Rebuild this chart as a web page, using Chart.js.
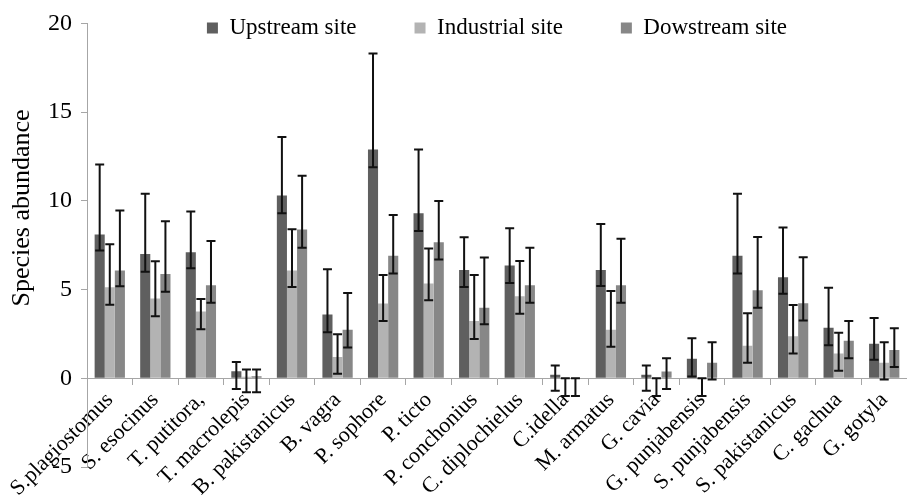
<!DOCTYPE html>
<html>
<head>
<meta charset="utf-8">
<script src="https://cdn.jsdelivr.net/npm/chart.js@4.4.0/dist/chart.umd.min.js"></script>
<style>
  html, body { margin: 0; padding: 0; background: #fff; }
  #wrap { width: 907px; height: 495px; }
</style>
</head>
<body>
<div id="wrap"><canvas id="graphAbundance"></canvas></div>
<script>
var categories = ['S.plagiostomus', 'S. esocinus', 'T. putitora,', 'T. macrolepis', 'B. pakistanicus',
    'B. vagra', 'P. sophore', 'P. ticto', 'P. conchonius', 'C. diplochielus', 'C.idella',
    'M. armatus', 'G. cavia', 'G. punjabensis', 'S. punjabensis', 'S. pakistanicus', 'C. gachua', 'G. gotyla'];

var upstream = [8.1, 7.0, 7.1, 0.4, 10.3, 3.6, 12.9, 9.3, 6.1, 6.35, 0.2, 6.1, 0.2, 1.1, 6.9, 5.7, 2.85, 1.95];
var upstreamHigh = [12.05, 10.4, 9.4, 0.92, 13.6, 6.15, 18.3, 12.9, 7.95, 8.45, 0.72, 8.7, 0.72, 2.25, 10.4, 8.5, 5.1, 3.4];
var upstreamLow = [7.2, 6.0, 6.2, -0.6, 9.3, 2.6, 11.9, 8.3, 5.15, 5.37, -0.7, 5.2, -0.7, 0.1, 5.9, 4.77, 1.86, 1.04];

var industrial = [5.13, 4.5, 3.76, 0.08, 6.08, 1.2, 4.21, 5.34, 3.23, 4.62, 0, 2.74, 0, 0, 1.84, 2.37, 1.39, 0.87];
var industrialHigh = [7.55, 6.6, 4.47, 0.49, 8.4, 2.48, 5.82, 7.32, 5.82, 6.61, 0, 4.92, 0, 0, 3.66, 4.13, 2.56, 2.03];
var industrialLow = [4.15, 3.5, 2.76, -0.79, 5.15, 0.26, 3.23, 4.4, 2.22, 3.63, -1.0, 1.77, -1.0, -1.0, 0.87, 1.39, 0.42, -0.07];

var downstream = [6.08, 5.88, 5.24, 0.11, 8.38, 2.74, 6.91, 7.66, 3.98, 5.24, 0, 5.24, 0.38, 0.87, 4.96, 4.23, 2.12, 1.6];
var downstreamHigh = [9.46, 8.85, 7.74, 0.49, 11.42, 4.81, 9.2, 9.99, 6.8, 7.35, 0, 7.87, 1.13, 2.03, 7.96, 6.82, 3.23, 2.82];
var downstreamLow = [5.18, 4.87, 4.25, -0.79, 7.36, 1.73, 5.9, 6.69, 3.04, 4.25, -1.0, 4.25, -0.6, -0.07, 3.98, 3.25, 1.13, 0.64];

var yTicks = [-5, 0, 5, 10, 15, 20];

var serif = '"Liberation Serif", "Times New Roman", serif';
var axisGrey = '#a6a6a6';

// error bars, drawn from the high/low arrays through the y scale
var errorBars = {
    id: 'errorBars',
    afterDatasetsDraw: function (chart) {
        var ctx = chart.ctx;
        var y = chart.scales.y;
        ctx.save();
        ctx.strokeStyle = '#111';
        ctx.lineWidth = 2;
        chart.data.datasets.forEach(function (ds, i) {
            chart.getDatasetMeta(i).data.forEach(function (bar, j) {
                var top = y.getPixelForValue(ds.errHigh[j]);
                var bottom = y.getPixelForValue(ds.errLow[j]);
                ctx.beginPath();
                ctx.moveTo(bar.x, top);
                ctx.lineTo(bar.x, bottom);
                ctx.moveTo(bar.x - 4.5, top);
                ctx.lineTo(bar.x + 4.5, top);
                ctx.moveTo(bar.x - 4.5, bottom);
                ctx.lineTo(bar.x + 4.5, bottom);
                ctx.stroke();
            });
        });
        ctx.restore();
    }
};

// legend box is squeezed above the plot; let its text spill below without clipping
var legendUnclip = {
    id: 'legendUnclip',
    afterLayout: function (chart) {
        if (chart.legend) {
            chart.legend.bottom += 30;
        }
    }
};

var yTitle = {
    id: 'yTitle',
    afterDraw: function (chart) {
        var ctx = chart.ctx;
        ctx.save();
        ctx.translate(22, 208);
        ctx.rotate(-Math.PI / 2);
        ctx.font = '26px ' + serif;
        ctx.fillStyle = '#000';
        ctx.textAlign = 'center';
        ctx.textBaseline = 'middle';
        ctx.fillText('Species abundance', 0, 0);
        ctx.restore();
    }
};

new Chart(document.getElementById('graphAbundance').getContext('2d'), {
    type: 'bar',
    data: {
        labels: categories,
        datasets: [
            { label: 'Upstream site', data: upstream, errHigh: upstreamHigh, errLow: upstreamLow, backgroundColor: '#5f5f5f' },
            { label: 'Industrial site', data: industrial, errHigh: industrialHigh, errLow: industrialLow, backgroundColor: '#b3b3b3' },
            { label: 'Dowstream site', data: downstream, errHigh: downstreamHigh, errLow: downstreamLow, backgroundColor: '#878787' }
        ]
    },
    options: {
        responsive: true,
        maintainAspectRatio: false,
        animation: false,
        categoryPercentage: 0.665,
        barPercentage: 1,
        layout: {
            padding: { left: 0, right: -3, top: -42, bottom: 28 }
        },
        plugins: {
            tooltip: { enabled: false },
            legend: {
                position: 'top',
                fullSize: false,
                maxHeight: 65,
                labels: {
                    boxWidth: 11,
                    boxHeight: 11,
                    padding: 58,
                    color: '#000',
                    font: { family: serif, size: 23 }
                }
            }
        },
        scales: {
            x: {
                position: { y: 0 },
                offset: true,
                grid: { offset: true, drawOnChartArea: false, tickLength: 6, color: axisGrey },
                border: { color: axisGrey, width: 1 },
                ticks: {
                    autoSkip: false,
                    minRotation: 45,
                    maxRotation: 45,
                    padding: 3,
                    color: '#000',
                    font: { family: serif, size: 22 }
                }
            },
            y: {
                min: -5,
                max: 20,
                afterFit: function (scale) { scale.width = 87; },
                afterBuildTicks: function (scale) {
                    scale.ticks = yTicks.map(function (v) { return { value: v }; });
                },
                grid: { drawOnChartArea: false, tickLength: 6, color: axisGrey },
                border: { color: axisGrey, width: 1 },
                ticks: {
                    padding: 9,
                    color: '#000',
                    font: { family: serif, size: 24 }
                }
            }
        }
    },
    plugins: [errorBars, legendUnclip, yTitle]
});
</script>
</body>
</html>
